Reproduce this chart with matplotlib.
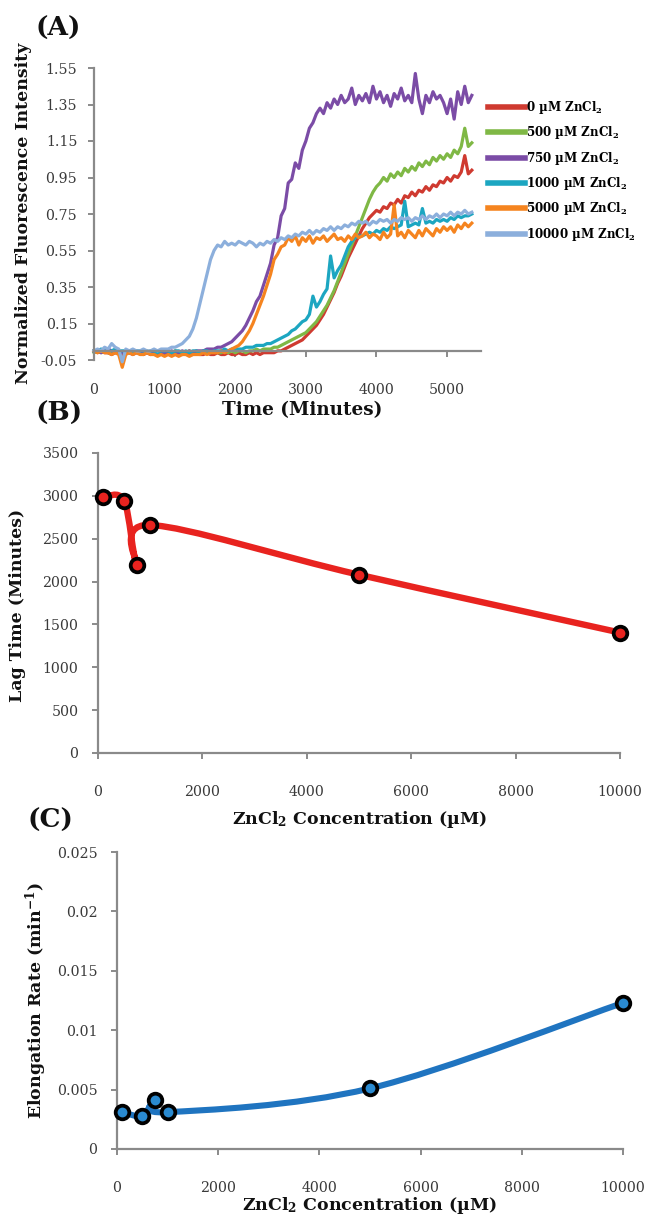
import numpy as np
import matplotlib
matplotlib.use("Agg")
import matplotlib.pyplot as plt
from matplotlib.path import Path
from matplotlib.patches import PathPatch

plt.rcParams['font.family'] = ['DejaVu Serif']
plt.rcParams['mathtext.fontset'] = 'dejavuserif'

# ---------------- Panel A: fluorescence time courses ----------------
time_min = np.arange(0, 5400, 50)

zn_0 = [0.00, -0.01, 0.00, -0.01, -0.01, -0.02, -0.01, -0.01, -0.02, -0.01,
        -0.01, -0.02, -0.01, -0.01, -0.02, -0.01, -0.02, -0.01, -0.02, -0.01,
        -0.02, -0.01, -0.02, -0.02, -0.01, -0.02, -0.01, -0.02, -0.02, -0.01,
        -0.02, -0.02, -0.01, -0.02, -0.02, -0.01, -0.02, -0.02, -0.01, -0.02,
        -0.02, -0.01, -0.02, -0.02, -0.01, -0.02, -0.01, -0.02, -0.01, -0.01,
        -0.01, -0.01, 0.00, 0.00, 0.01, 0.02, 0.03, 0.04, 0.05, 0.06,
        0.08, 0.10, 0.12, 0.14, 0.17, 0.20, 0.24, 0.28, 0.32, 0.37,
        0.41, 0.46, 0.51, 0.55, 0.59, 0.63, 0.67, 0.70, 0.73, 0.75,
        0.77, 0.76, 0.79, 0.78, 0.81, 0.80, 0.83, 0.81, 0.85, 0.84,
        0.87, 0.85, 0.88, 0.87, 0.90, 0.88, 0.91, 0.90, 0.93, 0.92,
        0.95, 0.93, 0.96, 0.95, 0.98, 1.07, 0.97, 0.99]

zn_500 = [-0.01, 0.00, -0.01, 0.00, -0.01, -0.01, 0.00, -0.01, -0.01, 0.00,
          -0.01, -0.01, 0.00, -0.01, -0.01, 0.00, -0.01, -0.01, -0.01, 0.00,
          -0.01, -0.01, -0.01, 0.00, -0.01, -0.01, -0.01, 0.00, -0.01, -0.01,
          -0.01, 0.00, -0.01, -0.01, 0.00, -0.01, -0.01, 0.00, -0.01, 0.00,
          -0.01, 0.00, 0.00, -0.01, 0.00, 0.00, 0.01, 0.00, 0.01, 0.01,
          0.01, 0.02, 0.02, 0.03, 0.04, 0.05, 0.06, 0.07, 0.08, 0.09,
          0.10, 0.12, 0.14, 0.16, 0.19, 0.22, 0.25, 0.29, 0.33, 0.38,
          0.43, 0.48, 0.53, 0.58, 0.63, 0.68, 0.73, 0.78, 0.83, 0.87,
          0.90, 0.92, 0.95, 0.93, 0.97, 0.95, 0.98, 0.96, 1.00, 0.98,
          1.01, 0.99, 1.03, 1.01, 1.04, 1.02, 1.06, 1.04, 1.07, 1.05,
          1.08, 1.06, 1.10, 1.08, 1.12, 1.22, 1.12, 1.14]

zn_750 = [0.00, 0.00, -0.01, 0.00, 0.01, 0.00, -0.01, 0.00, -0.01, 0.00,
          -0.01, 0.00, -0.01, -0.01, 0.00, -0.01, -0.01, 0.00, -0.01, -0.01,
          -0.01, -0.01, 0.00, -0.01, -0.01, 0.00, -0.01, 0.00, -0.01, 0.00,
          0.00, 0.00, 0.01, 0.01, 0.01, 0.02, 0.02, 0.03, 0.04, 0.05,
          0.07, 0.09, 0.11, 0.14, 0.18, 0.22, 0.27, 0.30, 0.36, 0.42,
          0.48, 0.58, 0.62, 0.74, 0.78, 0.92, 0.94, 1.03, 1.00, 1.10,
          1.15, 1.22, 1.25, 1.30, 1.33, 1.30, 1.36, 1.33, 1.38, 1.35,
          1.40, 1.36, 1.38, 1.44, 1.35, 1.40, 1.37, 1.41, 1.36, 1.45,
          1.38, 1.42, 1.36, 1.40, 1.34, 1.41, 1.38, 1.44, 1.37, 1.40,
          1.36, 1.52, 1.38, 1.30, 1.40, 1.36, 1.42, 1.38, 1.40, 1.36,
          1.30, 1.38, 1.27, 1.42, 1.35, 1.45, 1.36, 1.40]

zn_1000 = [0.00, 0.00, 0.01, 0.00, -0.01, 0.00, 0.01, 0.00, 0.00, 0.00,
           0.00, -0.01, 0.00, 0.00, 0.00, -0.01, 0.00, 0.00, -0.01, 0.00,
           0.00, 0.00, -0.01, 0.00, 0.00, -0.01, 0.00, -0.01, 0.00, 0.00,
           -0.01, 0.00, 0.00, -0.01, 0.00, 0.00, 0.00, 0.01, 0.00, 0.01,
           0.01, 0.01, 0.01, 0.02, 0.02, 0.02, 0.03, 0.03, 0.03, 0.04,
           0.04, 0.05, 0.06, 0.07, 0.08, 0.09, 0.11, 0.12, 0.14, 0.16,
           0.17, 0.20, 0.30, 0.24, 0.27, 0.31, 0.34, 0.52, 0.40, 0.44,
           0.47, 0.52, 0.57, 0.60, 0.62, 0.63, 0.63, 0.64, 0.65, 0.64,
           0.66, 0.65, 0.67, 0.66, 0.68, 0.67, 0.68, 0.69, 0.82, 0.68,
           0.69, 0.70, 0.69, 0.78, 0.70, 0.71, 0.70, 0.72, 0.71, 0.72,
           0.71, 0.73, 0.72, 0.74, 0.73, 0.74, 0.74, 0.75]

zn_5000 = [0.00, -0.01, 0.00, -0.01, -0.01, -0.02, -0.01, -0.02, -0.09, -0.02,
           -0.01, -0.02, -0.01, -0.02, -0.02, -0.01, -0.02, -0.02, -0.03, -0.02,
           -0.03, -0.02, -0.03, -0.02, -0.03, -0.02, -0.02, -0.03, -0.02, -0.02,
           -0.02, -0.01, -0.02, -0.01, -0.01, -0.01, 0.00, -0.01, 0.00, 0.01,
           0.02, 0.03, 0.05, 0.08, 0.11, 0.15, 0.20, 0.25, 0.30, 0.36,
           0.42, 0.50, 0.53, 0.57, 0.58, 0.62, 0.60, 0.63, 0.58, 0.62,
           0.60, 0.63, 0.59, 0.62, 0.61, 0.63, 0.60, 0.62, 0.64, 0.61,
           0.62, 0.60, 0.63, 0.61, 0.64, 0.62, 0.63, 0.65, 0.62, 0.64,
           0.63, 0.61, 0.65, 0.62, 0.64, 0.80, 0.63, 0.65, 0.62, 0.66,
           0.64, 0.62, 0.66, 0.63, 0.67, 0.65, 0.63, 0.67, 0.65, 0.68,
           0.66, 0.68, 0.65, 0.69, 0.67, 0.70, 0.68, 0.70]

zn_10000 = [0.00, 0.01, 0.00, 0.02, 0.01, 0.04, 0.02, 0.01, -0.06, 0.01,
            0.00, 0.01, 0.00, 0.00, 0.01, 0.00, 0.00, 0.01, 0.00, 0.01,
            0.01, 0.01, 0.02, 0.02, 0.03, 0.04, 0.06, 0.08, 0.12, 0.18,
            0.26, 0.34, 0.42, 0.50, 0.55, 0.58, 0.57, 0.60, 0.58, 0.59,
            0.58, 0.60, 0.59, 0.58, 0.60, 0.59, 0.57, 0.59, 0.58, 0.60,
            0.59, 0.61, 0.60, 0.62, 0.61, 0.63, 0.62, 0.64, 0.63, 0.65,
            0.64, 0.66, 0.64, 0.66, 0.65, 0.67, 0.66, 0.68, 0.66, 0.68,
            0.67, 0.69, 0.68, 0.70, 0.69, 0.71, 0.70, 0.71, 0.69, 0.71,
            0.70, 0.72, 0.71, 0.72, 0.70, 0.72, 0.71, 0.73, 0.72, 0.73,
            0.71, 0.73, 0.72, 0.74, 0.72, 0.74, 0.73, 0.75, 0.73, 0.75,
            0.74, 0.76, 0.74, 0.76, 0.75, 0.77, 0.75, 0.76]

series_labels = [r'0 µM ZnCl$_\mathbf{2}$', r'500 µM ZnCl$_\mathbf{2}$',
                 r'750 µM ZnCl$_\mathbf{2}$', r'1000 µM ZnCl$_\mathbf{2}$',
                 r'5000 µM ZnCl$_\mathbf{2}$', r'10000 µM ZnCl$_\mathbf{2}$']
series_values = [zn_0, zn_500, zn_750, zn_1000, zn_5000, zn_10000]
series_colors = ['#cf3a30', '#7fb845', '#7b4ca6', '#1ca6c1', '#f5841f', '#8cafdc']

a_yticks = [-0.05, 0.15, 0.35, 0.55, 0.75, 0.95, 1.15, 1.35, 1.55]
a_xticks = [0, 1000, 2000, 3000, 4000, 5000]

# ---------------- Panels B and C: summary vs. concentration ----------------
conc_um = [100, 500, 750, 1000, 5000, 10000]
lag_time = [2985, 2945, 2195, 2660, 2080, 1405]
elong_rate = [0.0031, 0.0028, 0.0041, 0.0031, 0.0051, 0.0123]

b_yticks = [0, 500, 1000, 1500, 2000, 2500, 3000, 3500]
c_yticks = [0, 0.005, 0.01, 0.015, 0.02, 0.025]
c_ytick_labels = ['0', '0.005', '0.01', '0.015', '0.02', '0.025']
conc_ticks = [0, 2000, 4000, 6000, 8000, 10000]

# ---------------- layout helpers ----------------
W, H = 648, 1218
fig = plt.figure(figsize=(W / 100, H / 100), dpi=100)
fig.patch.set_facecolor('white')


def box(left, top, right, bottom):
    return [left / W, 1 - bottom / H, (right - left) / W, (bottom - top) / H]


def fx(x):
    return x / W


def fy(y):
    return 1 - y / H


AXIS_GRAY = '#8a8a8a'
TICK_TXT = '#3a3a3a'
TEXT_DARK = '#111111'
TICK_FS = 10.2
LABEL_FS = 12.5
PANEL_FS = 19


def style_axis(ax):
    for s in ('top', 'right'):
        ax.spines[s].set_visible(False)
    for s in ('left', 'bottom'):
        ax.spines[s].set_color(AXIS_GRAY)
        ax.spines[s].set_linewidth(1.6)
    ax.tick_params(axis='both', direction='out', length=4, width=1.4,
                   colors=AXIS_GRAY, labelcolor=TICK_TXT, labelsize=TICK_FS)
    ax.set_facecolor('none')


def smooth_path(xs, ys):
    """Bezier path through the points, like a spreadsheet 'smoothed line'."""
    pts = np.column_stack([xs, ys]).astype(float)
    n = len(pts)
    verts = [pts[0]]
    codes = [Path.MOVETO]
    for i in range(n - 1):
        p0 = pts[max(i - 1, 0)]
        p1 = pts[i]
        p2 = pts[i + 1]
        p3 = pts[min(i + 2, n - 1)]
        c1 = p1 + (p2 - p0) / 6.0
        c2 = p2 - (p3 - p1) / 6.0
        verts += [c1, c2, p2]
        codes += [Path.CURVE4] * 3
    return Path(verts, codes)


def label(x, y, s, size=LABEL_FS, rot=0, ha='center'):
    fig.text(fx(x), fy(y), s, fontsize=size, fontweight='bold', rotation=rot,
             ha=ha, va='center', color=TEXT_DARK)


# ---------------- Panel A ----------------
axA = fig.add_axes(box(94, 68, 481, 360))
style_axis(axA)
for vals, col, lab in zip(series_values, series_colors, series_labels):
    axA.plot(time_min, vals, color=col, lw=2.3, label=lab, clip_on=False,
             solid_joinstyle='round')
axA.set_xlim(0, 5480)
axA.set_ylim(-0.05, 1.55)
axA.spines['bottom'].set_position(('data', 0))
axA.set_yticks(a_yticks)
axA.set_yticklabels([f'{v:.2f}' for v in a_yticks])
axA.set_xticks(a_xticks)
axA.set_xticklabels([str(v) for v in a_xticks])
axA.tick_params(axis='x', pad=19)
axA.tick_params(axis='y', pad=8)

leg = fig.legend(loc='upper left', bbox_to_anchor=(fx(488), fy(99)),
                 frameon=False, handlelength=3.1, handletextpad=0.1,
                 labelspacing=0.7, borderpad=0, borderaxespad=0,
                 prop={'weight': 'bold', 'size': 8.6})
for ln in leg.get_lines():
    ln.set_linewidth(4.0)

label(36, 28, '(A)', size=PANEL_FS, ha='left')
label(24, 213, 'Normalized Fluorescence Intensity', rot=90)
label(302, 410, 'Time (Minutes)', size=13.2)

# ---------------- Panel B ----------------
axB = fig.add_axes(box(98, 453, 620, 753))
style_axis(axB)
axB.add_patch(PathPatch(smooth_path(conc_um, lag_time), facecolor='none',
                        edgecolor='#e8231f', lw=4.6, capstyle='round',
                        joinstyle='round', zorder=2))
axB.plot(conc_um, lag_time, 'o', ms=9.8, mfc='#e8231f', mec='black',
         mew=2.7, zorder=3, clip_on=False)
axB.set_xlim(0, 10000)
axB.set_ylim(0, 3500)
axB.set_yticks(b_yticks)
axB.set_xticks(conc_ticks)
axB.tick_params(axis='x', pad=19)
axB.tick_params(axis='y', pad=10)

label(35, 413, '(B)', size=PANEL_FS, ha='left')
label(18, 605, 'Lag Time (Minutes)', rot=90)
label(360, 820, r'ZnCl$_\mathbf{2}$ Concentration (µM)')

# ---------------- Panel C ----------------
axC = fig.add_axes(box(117, 852, 623, 1149))
style_axis(axC)
axC.add_patch(PathPatch(smooth_path(conc_um, elong_rate), facecolor='none',
                        edgecolor='#1f74c0', lw=4.4, capstyle='round',
                        joinstyle='round', zorder=2))
axC.plot(conc_um, elong_rate, 'o', ms=9.8, mfc='#2a8ad0', mec='black',
         mew=2.7, zorder=3, clip_on=False)
axC.set_xlim(0, 10000)
axC.set_ylim(0, 0.025)
axC.set_yticks(c_yticks)
axC.set_yticklabels(c_ytick_labels)
axC.set_xticks(conc_ticks)
axC.tick_params(axis='x', pad=19)
axC.tick_params(axis='y', pad=10)

label(28, 820, '(C)', size=PANEL_FS, ha='left')
label(36, 1001, r'Elongation Rate (min$^{\mathbf{-1}}$)', rot=90)
label(370, 1205, r'ZnCl$_\mathbf{2}$ Concentration (µM)')

fig.savefig('out.png', dpi=100, facecolor='white')
